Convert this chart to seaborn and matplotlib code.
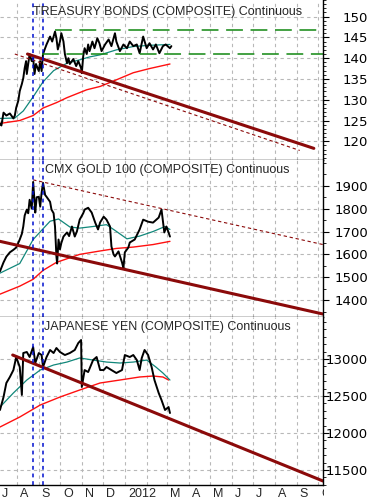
import matplotlib
matplotlib.use("Agg")
import matplotlib.pyplot as plt
import matplotlib.dates as mdates
from matplotlib.ticker import MultipleLocator, FixedLocator, NullFormatter
from matplotlib.transforms import ScaledTranslation, Bbox, TransformedBbox
import pandas as pd
import seaborn as sns

# ---------------- data ----------------
bond_dates = ["2011-07-08", "2011-07-10", "2011-07-13", "2011-07-17", "2011-07-22", "2011-07-27",
              "2011-07-29", "2011-07-31", "2011-08-03", "2011-08-05", "2011-08-08", "2011-08-10",
              "2011-08-12", "2011-08-14", "2011-08-15", "2011-08-17", "2011-08-19", "2011-08-22",
              "2011-08-24", "2011-08-26", "2011-08-28", "2011-09-01", "2011-09-03", "2011-09-05",
              "2011-09-07", "2011-09-10", "2011-09-12", "2011-09-17", "2011-09-20", "2011-09-24",
              "2011-09-26", "2011-09-28", "2011-10-01", "2011-10-03", "2011-10-06", "2011-10-08",
              "2011-10-11", "2011-10-13", "2011-10-15", "2011-10-20", "2011-10-24", "2011-10-27",
              "2011-10-31", "2011-11-01", "2011-11-03", "2011-11-05", "2011-11-08", "2011-11-10",
              "2011-11-12", "2011-11-16", "2011-11-19", "2011-11-23", "2011-11-26", "2011-11-29",
              "2011-12-04", "2011-12-09", "2011-12-13", "2011-12-18", "2011-12-20", "2011-12-25",
              "2011-12-30", "2012-01-04", "2012-01-08", "2012-01-13", "2012-01-18", "2012-01-22",
              "2012-01-27", "2012-02-01", "2012-02-05", "2012-02-10", "2012-02-14", "2012-02-19",
              "2012-02-24", "2012-02-28", "2012-03-05", "2012-03-07"]
bond_price = [124.3, 123.8, 126.9, 126.2, 126.7, 125.5, 126.2, 128.1, 129.8, 132.1, 133.8, 135.2,
              137.6, 139.3, 136.2, 138.6, 141.0, 139.3, 140.0, 136.2, 138.6, 136.9, 139.3, 136.9,
              141.0, 142.4, 143.3, 145.2, 144.0, 146.4, 144.8, 142.1, 144.0, 146.0, 144.0, 141.0,
              138.8, 140.0, 138.6, 139.8, 138.1, 139.3, 137.6, 136.4, 140.5, 142.4, 141.0, 143.3,
              141.7, 144.0, 142.4, 144.8, 143.6, 141.7, 143.3, 144.5, 142.9, 146.0, 144.0, 141.7,
              143.3, 142.4, 144.0, 142.9, 143.3, 141.2, 145.2, 142.4, 143.6, 142.1, 143.3, 141.2,
              142.9, 143.3, 142.4, 142.9]
bond_ma50_dates = ["2011-07-08", "2011-07-29", "2011-08-10", "2011-08-24", "2011-09-07", "2011-09-22",
                   "2011-10-11", "2011-10-29", "2011-11-12", "2011-11-27", "2011-12-20", "2012-01-13",
                   "2012-02-05", "2012-03-05"]
bond_ma50 = [125.5, 125.6, 127.3, 130.7, 134.3, 137.0, 138.8, 139.6, 140.3, 140.8, 142.0, 142.8, 143.1, 143.3]
bond_ma200_dates = ["2011-07-08", "2011-08-05", "2011-08-24", "2011-09-07", "2011-09-26", "2011-10-11",
                    "2011-11-08", "2011-11-27", "2011-12-16", "2012-01-13", "2012-02-05", "2012-03-05"]
bond_ma200 = [124.3, 125.0, 126.2, 128.0, 129.3, 130.5, 132.4, 133.2, 134.5, 136.5, 137.5, 138.6]
bond_trend_dates = ["2011-08-16", "2012-09-25"]
bond_trend = [141.0, 118.3]
bond_trend2_dates = ["2011-07-29", "2012-09-05"]
bond_trend2 = [141.0, 117.8]
bond_levels = [146.8, 141.0]
bond_level_start = ["2011-09-24", "2011-09-05"]
bond_ticks = [120, 125, 130, 135, 140, 145, 150]

gold_dates = ["2011-07-08", "2011-07-13", "2011-07-17", "2011-07-22", "2011-07-27", "2011-07-31",
              "2011-08-05", "2011-08-08", "2011-08-10", "2011-08-12", "2011-08-15", "2011-08-17",
              "2011-08-19", "2011-08-22", "2011-08-24", "2011-08-26", "2011-08-27", "2011-08-29",
              "2011-09-01", "2011-09-03", "2011-09-05", "2011-09-07", "2011-09-10", "2011-09-12",
              "2011-09-17", "2011-09-19", "2011-09-22", "2011-09-24", "2011-09-26", "2011-09-27",
              "2011-09-29", "2011-10-01", "2011-10-03", "2011-10-06", "2011-10-11", "2011-10-14",
              "2011-10-18", "2011-10-22", "2011-10-25", "2011-10-29", "2011-11-03", "2011-11-05",
              "2011-11-10", "2011-11-15", "2011-11-20", "2011-11-24", "2011-11-27", "2011-12-02",
              "2011-12-06", "2011-12-11", "2011-12-13", "2011-12-16", "2011-12-18", "2011-12-23",
              "2011-12-28", "2011-12-30", "2012-01-01", "2012-01-06", "2012-01-08", "2012-01-15",
              "2012-01-22", "2012-01-27", "2012-02-03", "2012-02-10", "2012-02-18", "2012-02-22",
              "2012-02-26", "2012-02-29", "2012-03-05"]
gold_price = [1526, 1565, 1590, 1609, 1620, 1630, 1665, 1690, 1722, 1770, 1796, 1780,
              1839, 1800, 1917, 1830, 1783, 1850, 1852, 1809, 1870, 1913, 1860, 1852,
              1830, 1796, 1780, 1722, 1591, 1560, 1665, 1622, 1650, 1678, 1696, 1680,
              1722, 1678, 1700, 1752, 1780, 1796, 1804, 1783, 1739, 1709, 1740, 1765,
              1752, 1722, 1635, 1600, 1591, 1613, 1565, 1540, 1609, 1630, 1652, 1665,
              1709, 1752, 1743, 1739, 1761, 1796, 1696, 1722, 1678]
gold_ma50_dates = ["2011-07-08", "2011-08-05", "2011-08-24", "2011-09-07", "2011-09-17", "2011-09-29",
                   "2011-10-15", "2011-10-29", "2011-11-17", "2011-12-06", "2011-12-18", "2012-01-04",
                   "2012-01-22", "2012-02-10", "2012-02-27", "2012-03-05"]
gold_ma50 = [1518, 1560, 1665, 1712, 1745, 1755, 1720, 1715, 1722, 1730, 1705, 1668, 1680, 1700, 1722, 1709]
gold_ma200_dates = ["2011-07-08", "2011-08-05", "2011-08-24", "2011-09-07", "2011-09-26", "2011-10-29",
                    "2011-11-27", "2011-12-20", "2012-01-13", "2012-02-10", "2012-03-05"]
gold_ma200 = [1426, 1461, 1491, 1530, 1565, 1600, 1615, 1626, 1632, 1643, 1657]
gold_trend_dates = ["2011-07-08", "2012-10-08"]
gold_trend = [1657, 1339]
gold_trend2_dates = ["2011-08-24", "2012-10-08"]
gold_trend2 = [1926, 1643]
gold_ticks = [1400, 1500, 1600, 1700, 1800, 1900]

yen_dates = ["2011-07-08", "2011-07-13", "2011-07-17", "2011-07-22", "2011-07-27", "2011-07-31",
             "2011-08-05", "2011-08-08", "2011-08-10", "2011-08-15", "2011-08-19", "2011-08-24",
             "2011-08-27", "2011-09-01", "2011-09-05", "2011-09-07", "2011-09-12", "2011-09-17",
             "2011-09-22", "2011-09-26", "2011-10-01", "2011-10-08", "2011-10-15", "2011-10-22",
             "2011-10-27", "2011-10-31", "2011-11-01", "2011-11-05", "2011-11-10", "2011-11-17",
             "2011-11-22", "2011-11-27", "2011-12-02", "2011-12-06", "2011-12-13", "2011-12-20",
             "2011-12-28", "2012-01-01", "2012-01-08", "2012-01-13", "2012-01-18", "2012-01-22",
             "2012-01-25", "2012-01-29", "2012-02-03", "2012-02-08", "2012-02-12", "2012-02-18",
             "2012-02-22", "2012-02-27", "2012-03-03", "2012-03-05"]
yen_price = [12311, 12486, 12676, 12757, 12851, 13027, 12892, 12514, 13081, 13095, 13027, 13162,
             12946, 13081, 13054, 12892, 13027, 13122, 13081, 13149, 13095, 13054, 13081, 13122,
             13216, 13257, 12622, 12851, 12824, 12986, 13027, 12851, 12851, 12892, 12851, 12811,
             12851, 13054, 13027, 13054, 12986, 12851, 13014, 13122, 13054, 12892, 12716, 12541,
             12446, 12311, 12351, 12270]
yen_ma50_dates = ["2011-07-08", "2011-07-27", "2011-08-15", "2011-09-03", "2011-09-22", "2011-10-11",
                  "2011-10-29", "2011-11-17", "2011-12-06", "2011-12-25", "2012-01-13", "2012-02-01",
                  "2012-02-14", "2012-02-24", "2012-03-05"]
yen_ma50 = [12351, 12541, 12716, 12851, 12919, 12959, 13014, 12986, 12959, 12946, 12959, 12986,
            12892, 12811, 12716]
yen_ma200_dates = ["2011-07-08", "2011-08-05", "2011-09-03", "2011-10-01", "2011-10-29", "2011-11-27",
                   "2011-12-25", "2012-01-22", "2012-02-10", "2012-02-24", "2012-03-03"]
yen_ma200 = [12081, 12216, 12378, 12486, 12581, 12676, 12716, 12757, 12770, 12757, 12716]
yen_trend_dates = ["2011-07-26", "2012-10-08"]
yen_trend = [13054, 11351]
yen_ticks = [11500, 12000, 12500, 13000]

peak_dates = ["2011-08-24", "2011-09-07"]
titles = ["TREASURY BONDS (COMPOSITE) Continuous",
          "CMX GOLD 100 (COMPOSITE) Continuous",
          "JAPANESE YEN (COMPOSITE) Continuous"]
month_labels = ["J", "A", "S", "O", "N", "D", "2012", "", "M", "A", "M", "J", "J", "A", "S", "O"]

# ---------------- style ----------------
sns.set_style("white")
plt.rcParams["font.family"] = ["Liberation Sans", "DejaVu Sans"]

W, H = 370, 501
fig = plt.figure(figsize=(W / 100, H / 100), dpi=100)
right = 323 / W
ax_top = fig.add_axes([0, 1 - 160 / H, right, 160 / H])
ax_mid = fig.add_axes([0, 1 - 317 / H, right, 157 / H], sharex=ax_top)
ax_bot = fig.add_axes([0, 1 - 485 / H, right, 168 / H], sharex=ax_top)
axes = [ax_top, ax_mid, ax_bot]

PRICE = "black"
TEAL = "#11877a"
RED = "#ff1010"
DKRED = "#8b0a0a"
x0, x1 = pd.Timestamp("2011-07-08"), pd.Timestamp("2012-10-08")


def line(ax, d, v, color, lw):
    sns.lineplot(x=pd.to_datetime(d), y=v, ax=ax, color=color, linewidth=lw, estimator=None)
    return ax.lines[-1]


# top: treasury bonds
line(ax_top, bond_ma200_dates, bond_ma200, RED, 1.0)
line(ax_top, bond_ma50_dates, bond_ma50, TEAL, 0.9)
line(ax_top, bond_dates, bond_price, PRICE, 1.4)
line(ax_top, bond_trend_dates, bond_trend, DKRED, 2.2)
line(ax_top, bond_trend2_dates, bond_trend2, DKRED, 0.8).set_dashes([3, 2.5])
for lvl, start in zip(bond_levels, bond_level_start):
    ax_top.hlines(lvl, pd.Timestamp(start), x1 + pd.Timedelta(days=3), color="#118811",
                  linewidth=1.1, linestyles=(0, (11, 5)))

# middle: gold
line(ax_mid, gold_ma200_dates, gold_ma200, RED, 1.0)
line(ax_mid, gold_ma50_dates, gold_ma50, TEAL, 0.9)
line(ax_mid, gold_dates, gold_price, PRICE, 1.4)
line(ax_mid, gold_trend_dates, gold_trend, DKRED, 2.2)
line(ax_mid, gold_trend2_dates, gold_trend2, DKRED, 0.8).set_dashes([3, 2.5])

# bottom: yen
line(ax_bot, yen_ma200_dates, yen_ma200, RED, 1.0)
line(ax_bot, yen_ma50_dates, yen_ma50, TEAL, 0.9)
line(ax_bot, yen_dates, yen_price, PRICE, 1.4)
line(ax_bot, yen_trend_dates, yen_trend, DKRED, 2.2)

limits = [(115.5, 154.0), (1326, 2013), (11297, 13568)]
tick_sets = [bond_ticks, gold_ticks, yen_ticks]
minors = [1, 50, 100]

for ax, lim, tks, mn in zip(axes, limits, tick_sets, minors):
    for d in peak_dates:
        ax.axvline(pd.Timestamp(d), color="#0010d0", linewidth=1.1, linestyle=(0, (2.5, 2.5)))
    ax.set_ylim(*lim)
    ax.set_xlim(x0, x1)
    ax.yaxis.set_major_locator(FixedLocator(tks))
    ax.yaxis.set_minor_locator(MultipleLocator(mn))
    ax.yaxis.tick_right()
    ax.tick_params(axis="y", which="major", length=4, width=0.8, pad=28.5, labelsize=9.5,
                   colors="black")
    ax.tick_params(axis="y", which="minor", length=2.5, width=0.7)
    for lb in ax.get_yticklabels():
        lb.set_horizontalalignment("right")
        lb.set_family("DejaVu Sans")
    ax.xaxis.set_major_locator(mdates.MonthLocator())
    ax.xaxis.set_major_formatter(NullFormatter())
    ax.grid(True, which="major", color="#b8b8b8", linestyle=(0, (3, 3)), linewidth=0.8)
    ax.set_axisbelow(True)
    ax.set_xlabel("")
    ax.set_ylabel("")
    for s in ["top", "left"]:
        ax.spines[s].set_visible(False)
    for s in ["right", "bottom"]:
        ax.spines[s].set_color("black")
        ax.spines[s].set_linewidth(1.0)

for ax in [ax_top, ax_mid]:
    ax.tick_params(axis="x", length=0, labelbottom=False)
ax_bot.tick_params(axis="x", length=12, width=0.9, color="black", labelbottom=False)

# month labels sit just right of each month tick (kept inside the plot on the left)
clip = TransformedBbox(Bbox([[0, 0], [324 / W, 1]]), fig.transFigure)
off = ScaledTranslation(3 / 100, -9 / 100, fig.dpi_scale_trans)
for m, lab in zip(pd.date_range("2011-07-01", "2012-10-01", freq="MS"), month_labels):
    pos = max(m, x0 - pd.Timedelta(days=2))
    t = ax_bot.text(pos, 0, lab, transform=ax_bot.get_xaxis_transform() + off,
                    ha="left", va="center", fontsize=9, clip_on=True)
    t.set_clip_box(clip)

# panel titles
for (x, y), txt in zip([(33, 12), (45, 170), (44, 327)], titles):
    fig.text(x / W, 1 - y / H, txt, fontsize=9, ha="left", va="center")

fig.savefig("out.png", dpi=100)
